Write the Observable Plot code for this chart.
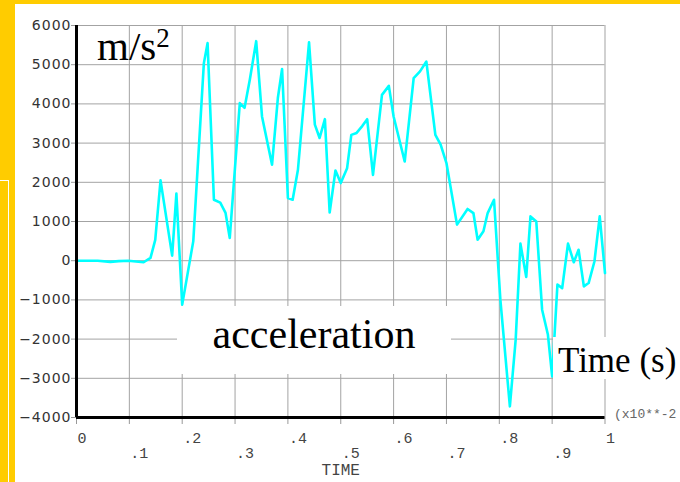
<!DOCTYPE html>
<html>
<head>
<meta charset="utf-8">
<script src="https://cdn.jsdelivr.net/npm/d3@7"></script>
<script src="https://cdn.jsdelivr.net/npm/@observablehq/plot@0.6"></script>
<style>
  body { margin: 0; }
  #wrap { position: relative; width: 680px; height: 482px; background: #ffcc00; overflow: hidden; }
  #panel { position: absolute; left: 15px; top: 4px; right: 0; bottom: 0; background: #fff; }
  #edge { position: absolute; left: -1px; top: 180px; width: 9px; height: 310px; border-top: 1px solid #fff; border-right: 1px solid #fff; }
  #chart { position: absolute; left: 0; top: 0; }
  .ann { position: absolute; font-family: "Liberation Serif", "Times New Roman", serif; color: #000; white-space: nowrap; }
</style>
</head>
<body>
<div id="wrap">
  <div id="panel"></div>
  <div id="edge"></div>
  <div id="chart"></div>
  <div class="ann" id="unit" style="left:97px; top:26px; font-size:41px; line-height:41px;">m/s<span style="font-size:27px; position:relative; top:-13px;">2</span></div>
  <div class="ann" id="acc" style="left:177px; top:306px; width:274px; height:68px; background:#fff; text-align:center; font-size:42px; line-height:56px;">acceleration</div>
  <div class="ann" id="tlab" style="left:553px; top:337px; width:127px; height:42px; background:#fff; padding-left:5px; box-sizing:border-box; font-size:35px; line-height:48px;">Time (s)</div>
</div>
<script>
// Data (time in units of 10^-2 s, acceleration in m/s^2)
const time = [0, 0.04, 0.064, 0.08, 0.098, 0.127, 0.140, 0.149, 0.159, 0.181,
  0.189, 0.200, 0.221, 0.241, 0.248, 0.260, 0.272, 0.282, 0.290, 0.309,
  0.318, 0.328, 0.340, 0.351, 0.370, 0.381, 0.389, 0.400, 0.409, 0.419,
  0.440, 0.451, 0.460, 0.470, 0.479, 0.490, 0.500, 0.512, 0.520, 0.530,
  0.541, 0.550, 0.561, 0.578, 0.591, 0.600, 0.621, 0.638, 0.650, 0.662,
  0.679, 0.689, 0.700, 0.720, 0.740, 0.751, 0.759, 0.770, 0.778, 0.790,
  0.802, 0.820, 0.831, 0.840, 0.851, 0.859, 0.870, 0.881, 0.892, 0.900,
  0.910, 0.919, 0.930, 0.941, 0.950, 0.960, 0.969, 0.980, 0.990, 1.000];
const accel = [0, 0, -30, -10, 0, -40, 70, 530, 2050, 130,
  1710, -1120, 500, 5040, 5550, 1555, 1480, 1220, 580, 4020,
  3900, 4620, 5600, 3680, 2450, 4150, 4890, 1600, 1555, 2320,
  5570, 3470, 3130, 3610, 1230, 2300, 1980, 2360, 3210, 3260,
  3440, 3610, 2190, 4230, 4460, 3680, 2530, 4660, 4830, 5080,
  3210, 2960, 2490, 920, 1320, 1215, 535, 750, 1215, 1555,
  -995, -3715, -2015, 435, -415, 1130, 1000, -1250, -1890, -2950,
  -610, -700, 435, -40, 280, -655, -570, -20, 1130, -315];

const yTicks = [-4000, -3000, -2000, -1000, 0, 1000, 2000, 3000, 4000, 5000, 6000];
const xTicksUpper = [0, 0.2, 0.4, 0.6, 0.8, 1];
const xTicksLower = [0.1, 0.3, 0.5, 0.7, 0.9];
const xTicksAll = [0, 0.1, 0.2, 0.3, 0.4, 0.5, 0.6, 0.7, 0.8, 0.9, 1];
const xLabel = "TIME";
const xScaleNote = "(x10**-2";

const data = time.map((t, i) => ({t, a: accel[i]}));
const fmtX = d => d === 0 ? "0" : d === 1 ? "1" : "." + Math.round(d * 10);
const fmtY = d => d < 0 ? "\u2212" + Math.abs(d) : String(d);
const mono = "Liberation Mono, DejaVu Sans Mono, monospace";

const chart = Plot.plot({
  width: 680,
  height: 482,
  marginLeft: 76,
  marginRight: 75.5,
  marginTop: 25,
  marginBottom: 65,
  style: {background: "transparent", overflow: "visible", color: "#333"},
  x: {domain: [0, 1], axis: null},
  y: {domain: [-4000, 6000], axis: null},
  marks: [
    Plot.gridX(xTicksAll, {stroke: "#a3a3a3", strokeOpacity: 1}),
    Plot.gridY(yTicks, {stroke: "#a3a3a3", strokeOpacity: 1}),
    Plot.axisY(yTicks, {anchor: "left", tickSize: 6, tickPadding: 0, dx: 1, tickFormat: fmtY,
      fontSize: 14, fontFamily: "DejaVu Sans, sans-serif", label: null}),
    Plot.axisX(xTicksAll, {anchor: "bottom", tickSize: 7, tickFormat: () => "", label: null}),
    Plot.text(xTicksUpper, {x: d => d, frameAnchor: "bottom", lineAnchor: "bottom", textAnchor: "start",
      dx: 1, dy: 25, text: fmtX, fontSize: 15, fontFamily: mono, fill: "#444"}),
    Plot.text(xTicksLower, {x: d => d, frameAnchor: "bottom", lineAnchor: "bottom", textAnchor: "start",
      dx: 1, dy: 40, text: fmtX, fontSize: 15, fontFamily: mono, fill: "#444"}),
    Plot.text([xLabel], {frameAnchor: "bottom", lineAnchor: "bottom", text: d => d, dy: 57,
      fontSize: 16, fontFamily: mono, fill: "#444"}),
    Plot.text([xScaleNote], {frameAnchor: "bottom-right", lineAnchor: "bottom", textAnchor: "start",
      text: d => d, dx: 9, dy: 0, fontSize: 13, fontFamily: mono, fill: "#666"}),
    Plot.line(data, {x: "t", y: "a", stroke: "#00ffff", strokeWidth: 2.6, strokeLinejoin: "round"}),
    Plot.ruleX([0], {stroke: "#000", strokeWidth: 3}),
    Plot.ruleY([-4000], {stroke: "#000", strokeWidth: 3})
  ]
});

const svg = d3.select(chart);
svg.selectAll('[aria-label="y-axis tick label"] text').attr("letter-spacing", "1px").attr("fill", "#333");
svg.selectAll('[aria-label="y-axis tick label"]').attr("fill", "#333");
svg.selectAll('[aria-label="y-axis tick"]').attr("stroke", "#999");
svg.selectAll('[aria-label="x-axis tick"]').attr("stroke", "#999");
svg.selectAll('[aria-label="x-axis tick label"]').remove();
document.getElementById("chart").appendChild(chart);
</script>
</body>
</html>
